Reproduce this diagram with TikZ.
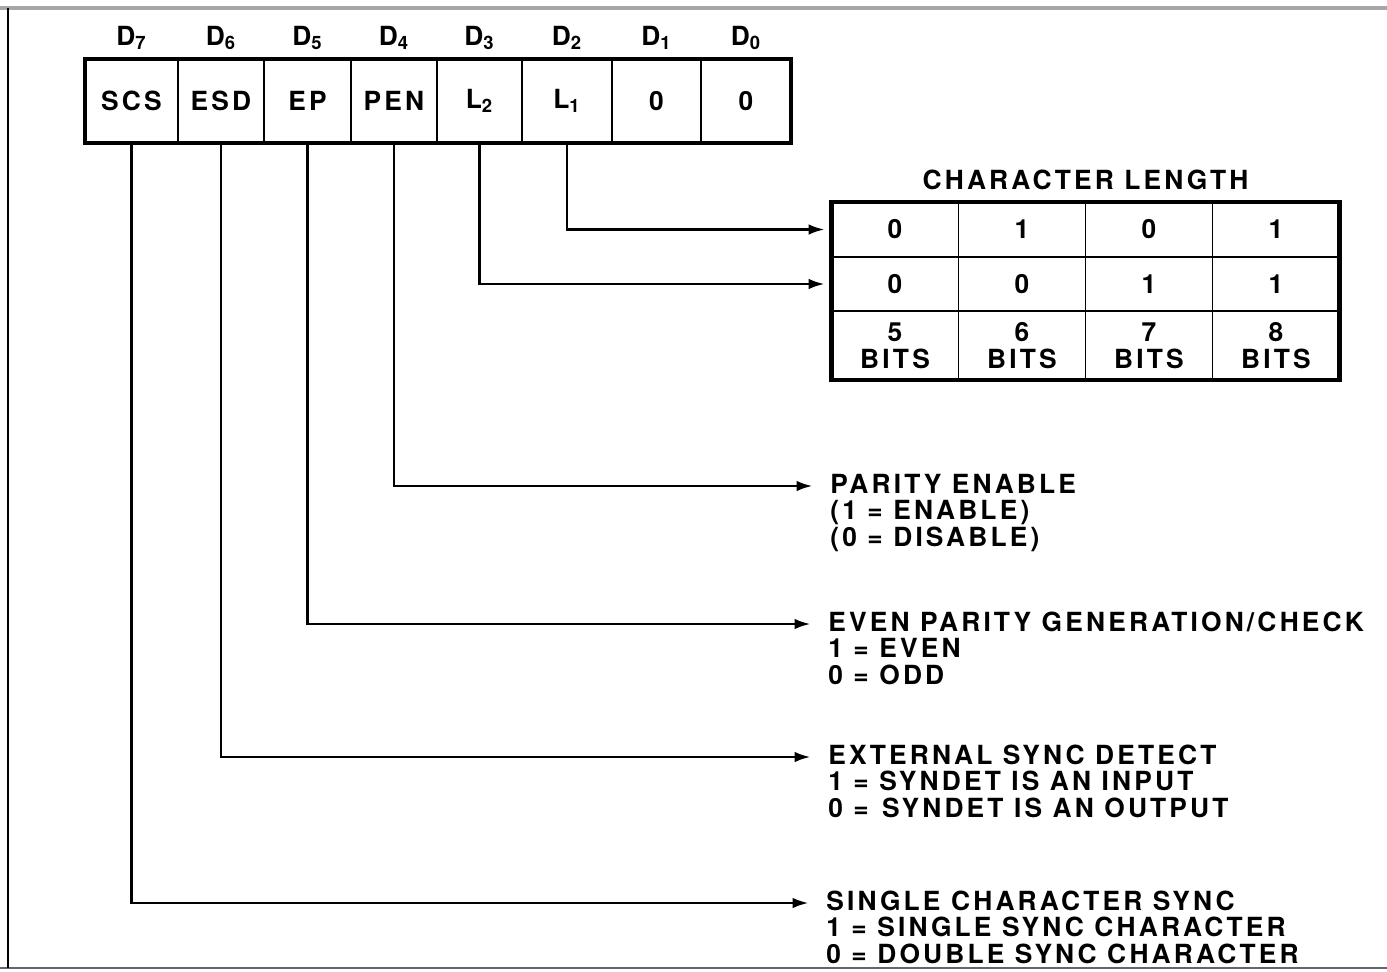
\documentclass[tikz,border=0pt]{standalone}
\usepackage{fontspec}
\setmainfont{TeX Gyre Heros}[LetterSpace=12]
\usetikzlibrary{arrows.meta, positioning}
\newcommand{\regfont}{\fontsize{15}{15.4}\selectfont\bfseries}

\begin{document}
\begin{tikzpicture}[x=0.02cm, y=-0.02cm,
    reg/.style={rectangle, draw, line width=0.8pt, outer sep=0pt, minimum height=1.68cm, inner sep=0pt, font=\regfont},
    bit/.style={inner sep=0pt, font=\regfont},
    lencell/.style={rectangle, draw, line width=1pt, outer sep=0pt, minimum width=2.54cm, inner sep=0pt, align=center, font=\regfont},
    note/.style={anchor=west, inner sep=0pt, text height=12pt, text depth=3.4pt, font=\regfont},
    detail/.style={inner sep=0pt, align=left, font=\regfont, execute at begin node={\rule{0pt}{12pt}}},
    conn/.style={-{Latex[length=9pt, width=6pt]}, line width=1.4pt, shorten >=10pt},
  ]
    \useasboundingbox (0,0) rectangle (1387,971);
    % page frame
    \draw[gray!70, line width=2.5pt] (0,8) -- (1387,8);
    \draw[gray!80!black, line width=1.6pt] (0,968) -- (1387,968);
    \draw[line width=1pt] (8,8) -- (8,968);

    % mode instruction register
    \node[reg, minimum width=1.86cm] (scs) at (131.5,101) {SCS};
    \node[reg, minimum width=1.72cm, right=0pt of scs] (esd) {ESD};
    \node[reg, minimum width=1.74cm, right=0pt of esd] (ep) {EP};
    \node[reg, minimum width=1.72cm, right=0pt of ep] (pen) {PEN};
    \node[reg, minimum width=1.70cm, right=0pt of pen] (ltwo) {L\textsubscript{2}};
    \node[reg, minimum width=1.80cm, right=0pt of ltwo] (lone) {L\textsubscript{1}};
    \node[reg, minimum width=1.78cm, right=0pt of lone] (done) {0};
    \node[reg, minimum width=1.80cm, right=0pt of done] (dzero) {0};
    \draw[line width=2.6pt] (scs.north west) rectangle (dzero.south east);

    \node[bit, above=5pt of scs] (b7) {D\textsubscript{7}};
    \node[bit, above=5pt of esd] (b6) {D\textsubscript{6}};
    \node[bit, above=5pt of ep] (b5) {D\textsubscript{5}};
    \node[bit, above=5pt of pen] (b4) {D\textsubscript{4}};
    \node[bit, above=5pt of ltwo] (b3) {D\textsubscript{3}};
    \node[bit, above=5pt of lone] (b2) {D\textsubscript{2}};
    \node[bit, above=5pt of done] (b1) {D\textsubscript{1}};
    \node[bit, above=5pt of dzero] (b0) {D\textsubscript{0}};

    % character length table
    \node[lencell, minimum height=1.1cm] (la1) at (895,229.5) {0};
    \node[lencell, minimum height=1.1cm, right=0pt of la1] (la2) {1};
    \node[lencell, minimum height=1.1cm, right=0pt of la2] (la3) {0};
    \node[lencell, minimum height=1.1cm, right=0pt of la3] (la4) {1};
    \node[lencell, minimum height=1.08cm, below=0pt of la1] (lb1) {0};
    \node[lencell, minimum height=1.08cm, right=0pt of lb1] (lb2) {0};
    \node[lencell, minimum height=1.08cm, right=0pt of lb2] (lb3) {1};
    \node[lencell, minimum height=1.08cm, right=0pt of lb3] (lb4) {1};
    \node[lencell, minimum height=1.38cm, below=0pt of lb1] (lc1) {5\\BITS};
    \node[lencell, minimum height=1.38cm, right=0pt of lc1] (lc2) {6\\BITS};
    \node[lencell, minimum height=1.38cm, right=0pt of lc2] (lc3) {7\\BITS};
    \node[lencell, minimum height=1.38cm, right=0pt of lc3] (lc4) {8\\BITS};
    \draw[line width=2.4pt] (la1.north west) rectangle (lc4.south east);
    \node[bit, above=6.5pt of la2.north east] (lentitle) {CHARACTER LENGTH};

    % bit descriptions
    \node[note] (pettl) at (830,486) {PARITY ENABLE};
    \node[detail, below=0pt of pettl.south west, anchor=north west] (pedesc) {(1 = ENABLE)\\(0 = DISABLE)};
    \node[note] (epttl) at (828,624) {EVEN PARITY GENERATION/CHECK};
    \node[detail, below=0pt of epttl.south west, anchor=north west] (epdesc) {1 = EVEN\\0 = ODD};
    \node[note] (esdttl) at (828,757) {EXTERNAL SYNC DETECT};
    \node[detail, below=0pt of esdttl.south west, anchor=north west] (esddesc) {1 = SYNDET IS AN INPUT\\0 =\enspace SYNDET IS AN OUTPUT};
    \node[note] (scsttl) at (826,903) {SINGLE CHARACTER SYNC};
    \node[detail, below=0pt of scsttl.south west, anchor=north west] (scsdesc) {1 = SINGLE SYNC CHARACTER\\0 = DOUBLE SYNC CHARACTER};

    \draw[conn, shorten >=4pt] (lone.south) |- (la1.west);
    \draw[conn, shorten >=4pt] (ltwo.south) |- (lb1.west);
    \draw[conn] (pen.south) |- (pettl.west);
    \draw[conn] (ep.south) |- (epttl.west);
    \draw[conn] (esd.south) |- (esdttl.west);
    \draw[conn] (scs.south) |- (scsttl.west);
  \end{tikzpicture}
\end{document}
